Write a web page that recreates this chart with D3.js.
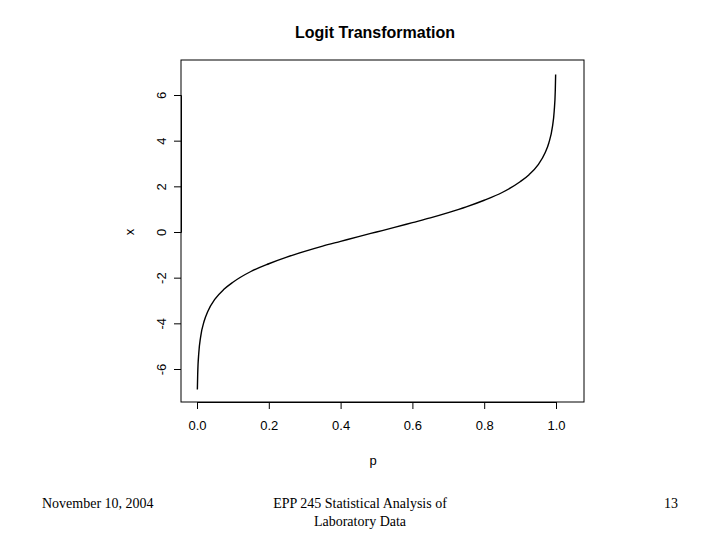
<!DOCTYPE html>
<html><head><meta charset="utf-8">
<script src="https://cdn.jsdelivr.net/npm/d3@7"></script>
<style>body{margin:0;background:#fff}</style></head>
<body><svg id="c" width="720" height="540"></svg>
<script>
const pVals=[0.001,0.002,0.005,0.01,0.02,0.03,0.05,0.075,0.1,0.15,0.2,0.25,0.3,0.35,0.4,0.45,0.5,0.55,0.6,0.65,0.7,0.75,0.8,0.85,0.9,0.925,0.95,0.97,0.98,0.99,0.995,0.998,0.999];
const xVals=[-6.9,-6.2,-5.3,-4.6,-3.9,-3.48,-2.94,-2.51,-2.2,-1.73,-1.39,-1.1,-0.85,-0.62,-0.41,-0.2,0,0.2,0.41,0.62,0.85,1.1,1.39,1.73,2.2,2.51,2.94,3.48,3.9,4.6,5.3,6.2,6.9];
const xTicks=[0,0.2,0.4,0.6,0.8,1.0];
const yTicks=[-6,-4,-2,0,2,4,6];
const svg=d3.select("#c");
const L=181,R=584,T=60,B=402;
const xs=d3.scaleLinear().domain([0,1]).range([197,556]);
const ys=d3.scaleLinear().domain([0,6]).range([232,95]);
svg.append("rect").attr("x",L).attr("y",T).attr("width",R-L).attr("height",B-T).attr("fill","none").attr("stroke","#000");
const gx=svg.append("g").attr("transform",`translate(0,${B})`).call(d3.axisBottom(xs).tickValues(xTicks).tickFormat(d3.format(".1f")).tickSize(7).tickPadding(12));
const gy=svg.append("g").attr("transform",`translate(${L},0)`).call(d3.axisLeft(ys).tickValues(yTicks).tickFormat(d=>d<0?"-"+Math.abs(d):d).tickSize(7).tickPadding(4));
[gx,gy].forEach(g=>{g.selectAll("text").attr("font-family","Liberation Sans, Arial").attr("font-size",13).attr("fill","#000");g.select(".domain").attr("stroke","#000");});
gy.selectAll(".tick text").attr("text-anchor","middle").each(function(){d3.select(this).attr("x",-19).attr("dy",0).attr("y",0).attr("transform","rotate(-90,-19,0) translate(0,4)");});
svg.append("path").datum(pVals.map((p,i)=>[p,xVals[i]])).attr("d",d3.line().x(d=>xs(d[0])).y(d=>ys(d[1])).curve(d3.curveMonotoneX)).attr("fill","none").attr("stroke","#000").attr("stroke-width",1.4);
svg.append("text").attr("x",375).attr("y",38).attr("text-anchor","middle").attr("font-family","Liberation Sans, Arial").attr("font-weight","bold").attr("font-size",16).text("Logit Transformation");
svg.append("text").attr("x",373).attr("y",465).attr("text-anchor","middle").attr("font-family","Liberation Sans, Arial").attr("font-size",13).text("p");
svg.append("text").attr("transform","translate(134,232) rotate(-90)").attr("text-anchor","middle").attr("font-family","Liberation Sans, Arial").attr("font-size",13).text("x");
const ser="Liberation Serif, Times New Roman";
svg.append("text").attr("x",42).attr("y",508).attr("font-family",ser).attr("font-size",14).text("November 10, 2004");
svg.append("text").attr("x",360).attr("y",508).attr("text-anchor","middle").attr("font-family",ser).attr("font-size",14).text("EPP 245 Statistical Analysis of");
svg.append("text").attr("x",360).attr("y",526).attr("text-anchor","middle").attr("font-family",ser).attr("font-size",14).text("Laboratory Data");
svg.append("text").attr("x",678).attr("y",508).attr("text-anchor","end").attr("font-family",ser).attr("font-size",14).text("13");
</script></body></html>
